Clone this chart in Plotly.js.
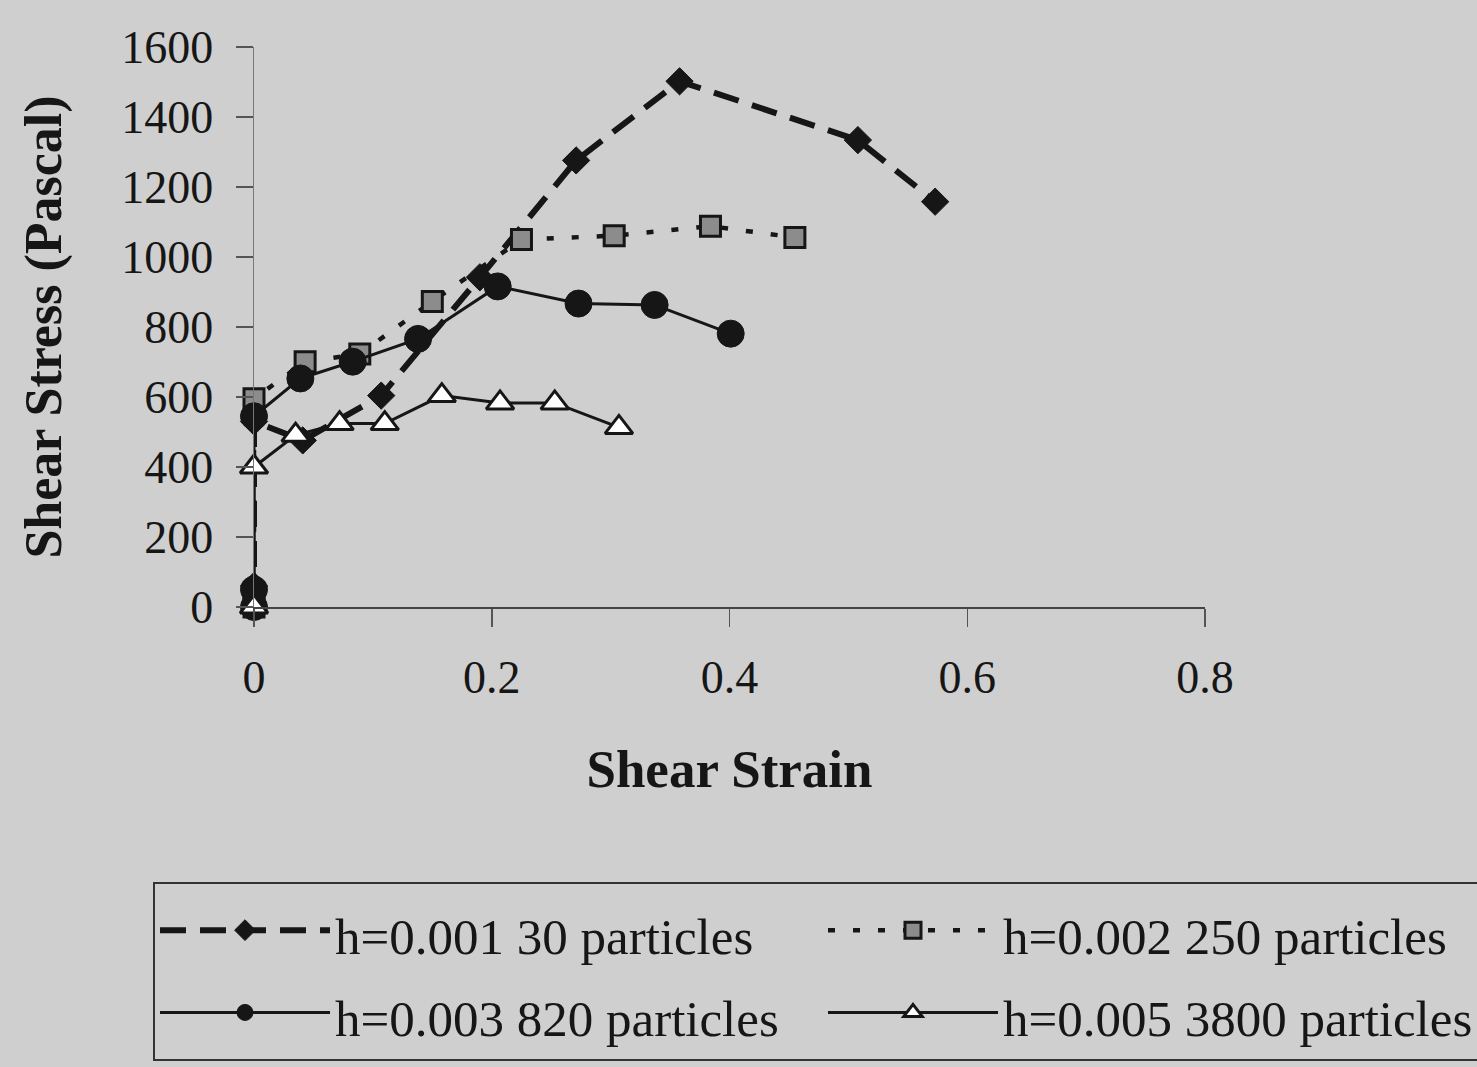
<!DOCTYPE html>
<html>
<head>
<meta charset="utf-8">
<script src="https://cdn.plot.ly/plotly-3.0.1.min.js"></script>
<style>
  html, body { margin: 0; padding: 0; background: #cfcfcf; }
  #chart { width: 1477px; height: 1067px; }
</style>
</head>
<body>
<div id="chart"></div>
<script>
// ---- data ----
var seriesNames = ["h=0.001 30 particles", "h=0.002 250 particles", "h=0.003 820 particles", "h=0.005 3800 particles"];

var strain001 = [0, 0, 0, 0.041, 0.107, 0.190, 0.271, 0.358, 0.508, 0.573];
var stress001 = [0, 60, 530, 476, 604, 942, 1276, 1502, 1334, 1158];

var strain002 = [0, 0, 0, 0.043, 0.089, 0.150, 0.225, 0.303, 0.384, 0.455];
var stress002 = [0, 40, 595, 701, 723, 873, 1050, 1061, 1088, 1056];

var strain003 = [0, 0, 0, 0.039, 0.083, 0.138, 0.205, 0.273, 0.337, 0.401];
var stress003 = [0, 50, 545, 653, 701, 766, 916, 867, 863, 781];

var strain005 = [0, 0, 0.035, 0.072, 0.110, 0.158, 0.207, 0.253, 0.307];
var stress005 = [0, 400, 491, 524, 524, 604, 583, 583, 513];

var xTickVals = [0, 0.2, 0.4, 0.6, 0.8];
var xTickText = ["0", "0.2", "0.4", "0.6", "0.8"];
var yTickVals = [0, 200, 400, 600, 800, 1000, 1200, 1400, 1600];
var yTickText = ["0", "200", "400", "600", "800", "1000", "1200", "1400", "1600"];

var FONT = "Liberation Serif, Times New Roman, serif";
var INK = "#161616";
var BG = "#cfcfcf";

function legendLabel(s) {
  return '<span style="font-size:51px">' + s + '</span>';
}

var traces = [
  {
    x: strain001, y: stress001, name: legendLabel(seriesNames[0]), type: "scatter", mode: "lines+markers",
    line: { color: INK, width: 6, dash: "26px,14px" },
    marker: { symbol: "diamond", size: 21, color: INK, line: { color: INK, width: 1 } },
    cliponaxis: false
  },
  {
    x: strain002, y: stress002, name: legendLabel(seriesNames[1]), type: "scatter", mode: "lines+markers",
    line: { color: INK, width: 4.5, dash: "7px,18px" },
    marker: { symbol: "square", size: 20, color: "#8c8c8c", line: { color: INK, width: 3 } },
    cliponaxis: false
  },
  {
    x: strain003, y: stress003, name: legendLabel(seriesNames[2]), type: "scatter", mode: "lines+markers",
    line: { color: INK, width: 3 },
    marker: { symbol: "circle", size: 27, color: INK, line: { color: INK, width: 1 } },
    cliponaxis: false
  },
  {
    x: strain005, y: stress005, name: legendLabel(seriesNames[3]), type: "scatter", mode: "lines+markers",
    line: { color: INK, width: 3 },
    marker: { symbol: "triangle-up", size: 24, color: "#ffffff", line: { color: INK, width: 3 } },
    cliponaxis: false
  }
];

var xDom = [254 / 1477, 1205 / 1477];
var yDom = [460 / 1067, 1020 / 1067];

var layout = {
  width: 1477, height: 1067,
  margin: { l: 0, r: 0, t: 0, b: 0, autoexpand: false },
  paper_bgcolor: BG, plot_bgcolor: BG,
  font: { family: FONT, color: INK, size: 46 },
  showlegend: true,
  xaxis: {
    domain: xDom, range: [0, 0.8], anchor: "y",
    tickmode: "array", tickvals: xTickVals, ticktext: xTickText,
    ticks: "outside", ticklen: 18, tickwidth: 1.5, tickcolor: "#555",
    showline: true, linecolor: "#444", linewidth: 2,
    showgrid: false, zeroline: false,
    tickfont: { family: FONT, size: 46, color: INK },
    ticklabelstandoff: 11,
    title: { text: "<b>Shear Strain</b>", font: { family: FONT, size: 53, color: INK }, standoff: 48 },
    automargin: false
  },
  yaxis: {
    domain: yDom, range: [0, 1600], anchor: "x",
    tickmode: "array", tickvals: yTickVals, ticktext: yTickText,
    ticks: "outside", ticklen: 17, tickwidth: 1.5, tickcolor: "#555",
    showline: true, linecolor: "#777", linewidth: 1.5,
    showgrid: false, zeroline: false,
    tickfont: { family: FONT, size: 46, color: INK },
    ticklabelstandoff: 13,
    title: { text: "<b>Shear Stress (Pascal)</b>", font: { family: FONT, size: 52, color: INK }, standoff: 43 },
    automargin: false
  },
  xaxis2: {
    domain: xDom, range: [0, 0.8], anchor: "y2", overlaying: "x", side: "bottom",
    tickmode: "array", tickvals: xTickVals,
    ticks: "inside", ticklen: 16, tickwidth: 1.5, tickcolor: "#555",
    showticklabels: false, showline: false, showgrid: false, zeroline: false
  },
  yaxis2: {
    domain: yDom, range: [0, 1600], anchor: "x2", overlaying: "y", side: "left",
    tickmode: "array", tickvals: yTickVals,
    ticks: "inside", ticklen: 11, tickwidth: 1.5, tickcolor: "#555",
    showticklabels: false, showline: false, showgrid: false, zeroline: false
  },
  legend: {
    orientation: "h",
    x: 153 / 1477, xanchor: "left",
    y: (1067 - 882) / 1067, yanchor: "top",
    bgcolor: "rgba(0,0,0,0)", bordercolor: "#333", borderwidth: 2,
    font: { family: FONT, size: 61, color: INK },
    entrywidth: 483, entrywidthmode: "pixels",
    itemwidth: 170,
    traceorder: "normal"
  }
};

Plotly.newPlot("chart", traces, layout, { staticPlot: true, displayModeBar: false });
</script>
</body>
</html>
